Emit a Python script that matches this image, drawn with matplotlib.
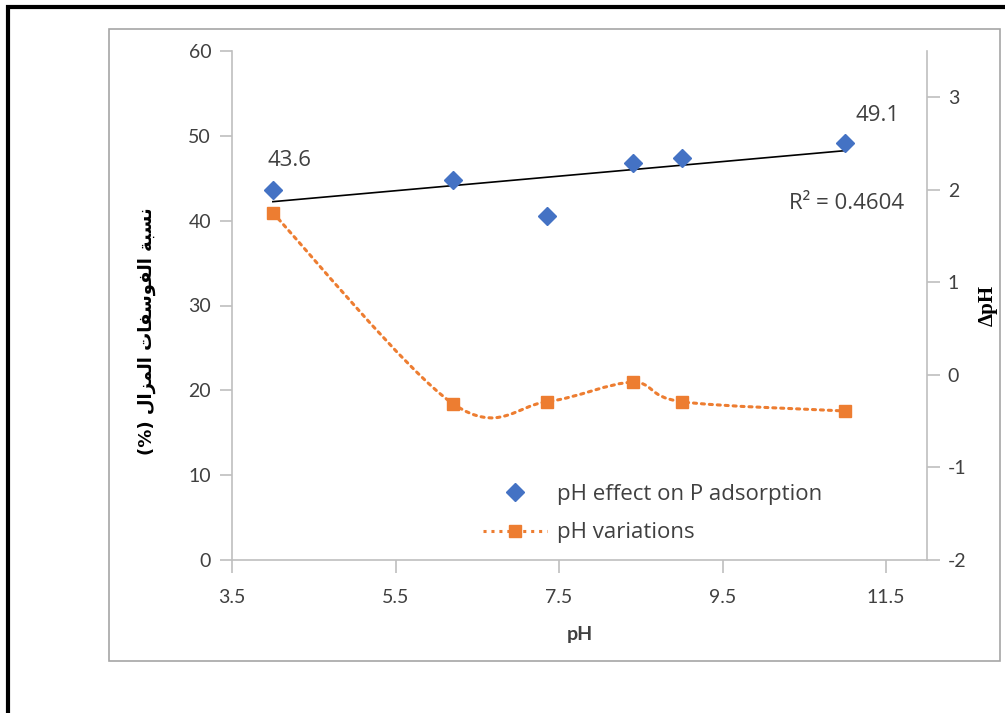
import numpy as np
import matplotlib
matplotlib.use("Agg")
import matplotlib.pyplot as plt
from matplotlib.patches import Rectangle
from matplotlib.path import Path
from matplotlib.patches import PathPatch
from matplotlib.lines import Line2D

# ---- data ----
ph = [4.0, 6.2, 7.35, 8.4, 9.0, 11.0]
p_removal = [43.6, 44.8, 40.6, 46.8, 47.4, 49.1]
delta_ph = [1.75, -0.31, -0.29, -0.08, -0.29, -0.39]
x_ticks = [3.5, 5.5, 7.5, 9.5, 11.5]
left_ticks = [0, 10, 20, 30, 40, 50, 60]
right_ticks = [-2, -1, 0, 1, 2, 3]
r2_text = "R² = 0.4604"
series1 = "pH effect on P adsorption"
series2 = "pH variations"

blue = "#4472C4"
orange = "#ED7D31"
grey = "#BFBFBF"
txt = "#404040"

plt.rcParams['font.family'] = ['Lato', 'DejaVu Sans']
plt.rcParams['axes.unicode_minus'] = False
label_font = ['Open Sans', 'DejaVu Sans']

fig = plt.figure(figsize=(10.05, 7.13), dpi=100)

# outer black frame
fig.add_artist(Rectangle((8/1005, -0.01), 1.05, 1 - 7/713 + 0.01, transform=fig.transFigure,
                         fill=False, edgecolor='black', linewidth=3))
# chart area border
fig.add_artist(Rectangle((109/1005, 1 - 661/713), (1000-109)/1005, (661-29)/713,
                         transform=fig.transFigure, fill=False, edgecolor='#A6A6A6', linewidth=1.2))

ax = fig.add_axes([232/1005, 1 - 560/713, (927-232)/1005, (560-51)/713])
ax2 = ax.twinx()

ax.set_xlim(3.5, 12.0)
ax.set_ylim(0, 60)
ax2.set_ylim(-2, 3.5)

for a in (ax, ax2):
    for s in a.spines.values():
        s.set_visible(False)
ax.spines['left'].set_visible(True)
ax.spines['bottom'].set_visible(True)
ax2.spines['right'].set_visible(True)
for s in (ax.spines['left'], ax.spines['bottom'], ax2.spines['right']):
    s.set_color(grey)
    s.set_linewidth(1.2)

ax.set_xticks(x_ticks)
ax.set_xticklabels([str(t) for t in x_ticks])
ax.set_yticks(left_ticks)
ax2.set_yticks(right_ticks)
ax.tick_params(axis='both', colors=grey, labelcolor=txt, labelsize=14, length=9, width=1.2, direction='out')
ax.tick_params(axis='x', pad=12)
ax.tick_params(axis='y', pad=6)
ax2.tick_params(axis='y', colors=grey, labelcolor=txt, labelsize=14, length=9, width=1.2, direction='out', pad=6)

# smoothed line (Excel style Catmull-Rom Bezier) for delta pH
xs = np.array(ph, dtype=float)
ys = np.array(delta_ph, dtype=float)
verts = [(xs[0], ys[0])]
codes = [Path.MOVETO]
n = len(xs)
for i in range(n - 1):
    p0 = np.array([xs[max(i-1, 0)], ys[max(i-1, 0)]])
    p1 = np.array([xs[i], ys[i]])
    p2 = np.array([xs[i+1], ys[i+1]])
    p3 = np.array([xs[min(i+2, n-1)], ys[min(i+2, n-1)]])
    c1 = p1 + (p2 - p0) / 6.0
    c2 = p2 - (p3 - p1) / 6.0
    verts += [tuple(c1), tuple(c2), tuple(p2)]
    codes += [Path.CURVE4] * 3
patch = PathPatch(Path(verts, codes), fill=False, edgecolor=orange, linewidth=2.2,
                  linestyle=(0, (1, 1.6)), capstyle='round')
ax2.add_patch(patch)
ax2.plot(ph, delta_ph, linestyle='none', marker='s', markersize=8, color=orange, zorder=3)

# blue scatter and trendline
ax.set_zorder(ax2.get_zorder() + 1)
ax.patch.set_visible(False)
ax.plot(ph, p_removal, linestyle='none', marker='D', markersize=9, color=blue, zorder=4)
coef = np.polyfit(ph, p_removal, 1)
tx = np.array([min(ph), max(ph)])
ax.plot(tx, np.polyval(coef, tx), color='black', linewidth=1.2, zorder=3)

# data labels
ax.annotate(f"{p_removal[0]}", (ph[0], p_removal[0]), xytext=(12, 21), textcoords='offset points',
            ha='center', va='center', fontsize=16, color=txt, family=label_font)
ax.annotate(f"{p_removal[-1]}", (ph[-1], p_removal[-1]), xytext=(23, 20), textcoords='offset points',
            ha='center', va='center', fontsize=16, color=txt, family=label_font)
ax.text(11.72, 42.0, r2_text, ha='right', va='center', fontsize=16, color=txt, family=label_font)

# axis titles
ax.set_xlabel("pH", fontsize=14, fontweight='bold', color=txt, labelpad=14)
arabic = "(%) " + "\uFEDD\uFE8D\uFEB0\uFEE4\uFEDF\uFE8D" + " " + \
         "\uFE95\uFE8E\uFED4\uFEB3\uFEEE\uFED4\uFEDF\uFE8D" + " " + "\uFE94\uFE92\uFEB4\uFEE7"
ax.set_ylabel(arabic, fontsize=13, fontweight='bold', color='black', family=['DejaVu Sans'])
ax.yaxis.set_label_coords(-0.11, 0.45)
ax2.set_ylabel("ΔpH", fontsize=15, fontweight='bold', color='black',
               family=['Liberation Serif', 'DejaVu Serif'], rotation=90, labelpad=8)

# legend
handles = [Line2D([], [], linestyle='none', marker='D', markersize=9, color=blue),
           Line2D([], [], linestyle=(0, (1, 1.6)), linewidth=2.2, color=orange,
                  marker='s', markersize=8, markerfacecolor=orange, markeredgecolor=orange)]
leg = ax.legend(handles, [series1, series2], loc='upper left', bbox_to_anchor=(0.361, 0.15),
                frameon=False, prop={'family': label_font, 'size': 16},
                handlelength=2.9, labelspacing=0.8, handletextpad=0.45,
                borderpad=0, borderaxespad=0)
for t in leg.get_texts():
    t.set_color(txt)

fig.savefig("out.png", dpi=100)
